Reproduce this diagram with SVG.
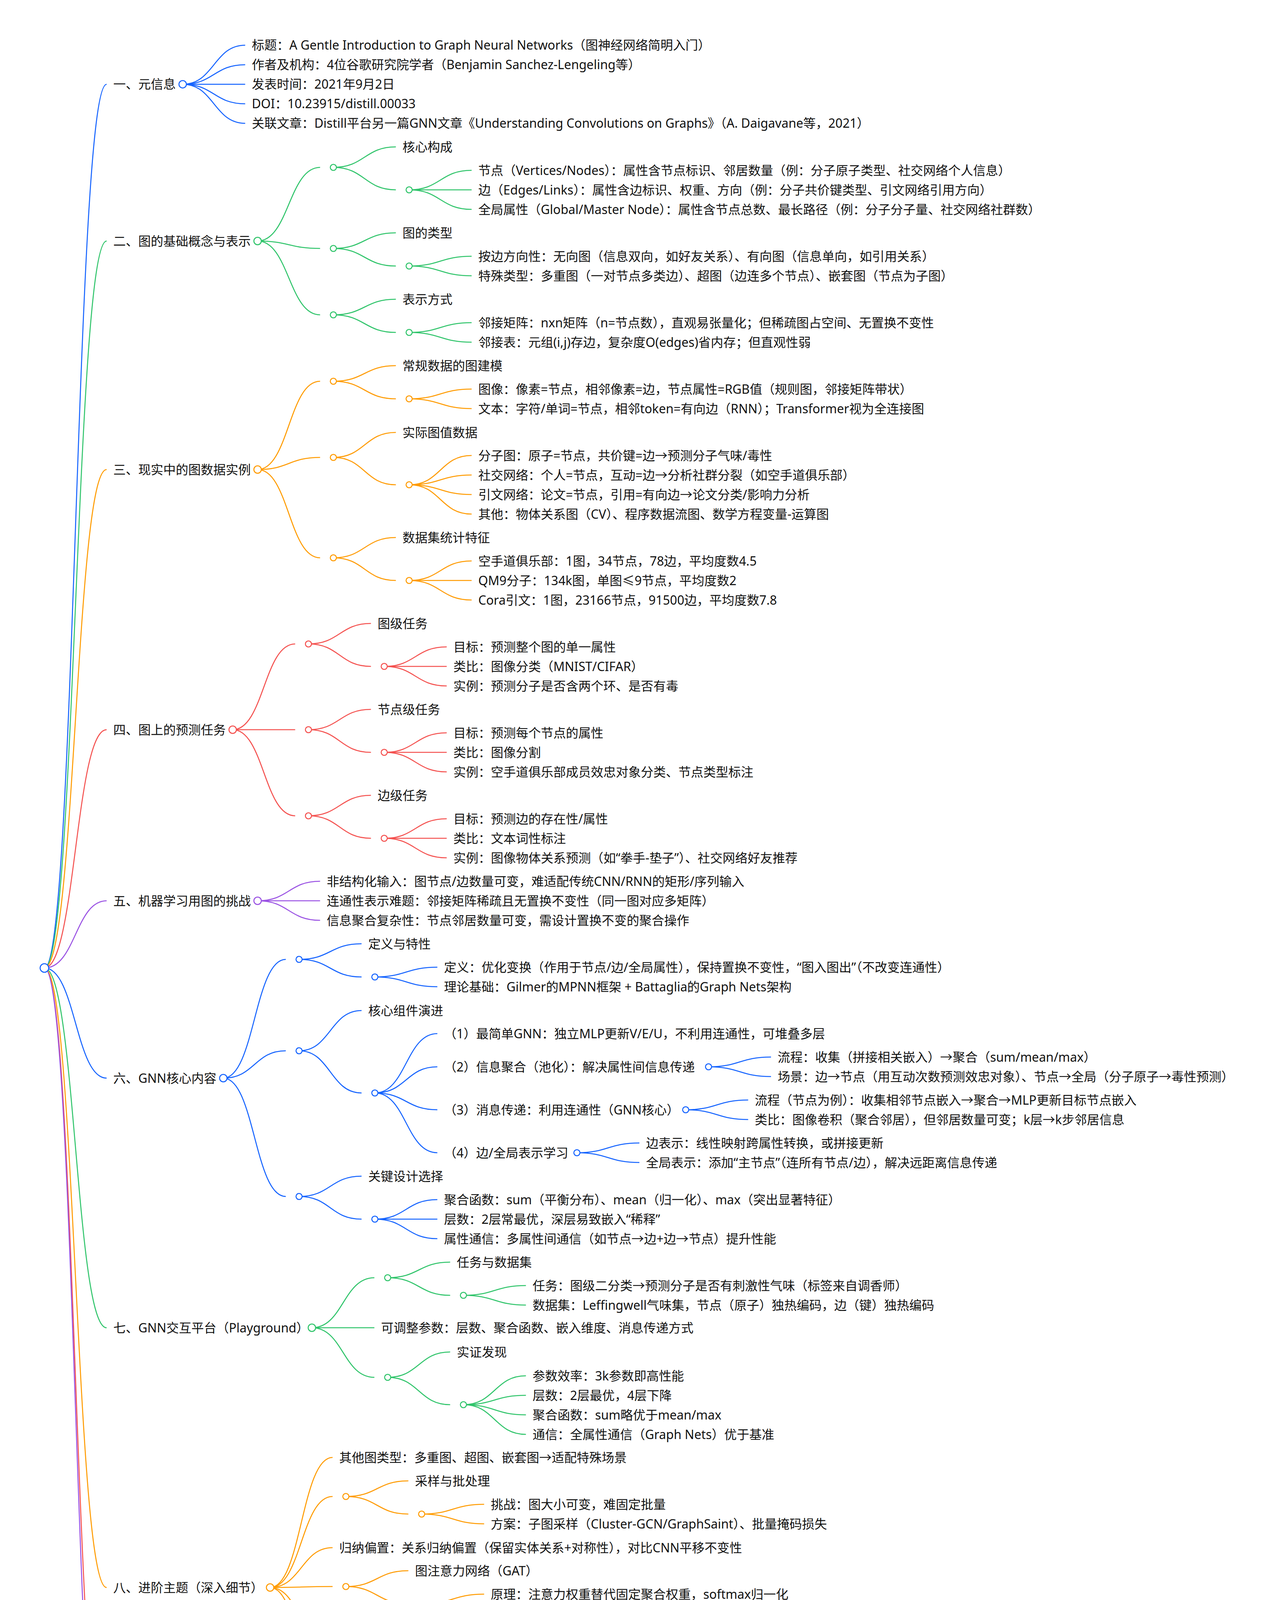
<svg xmlns="http://www.w3.org/2000/svg" width="3272" height="4907" viewBox="0 0 3272 4907">
<style>
.l{fill:none;stroke-width:2.6}
circle{fill:#fff;stroke-width:2.6}
text{font-family:"Noto Sans","Noto Sans CJK SC",sans-serif;font-size:32px;fill:#111}
.b{stroke:#1463ff}.g{stroke:#2fc46a}.o{stroke:#ff9b00}.r{stroke:#f4514f}.p{stroke:#9a52e3}
</style>
<rect width="3272" height="4907" fill="#fff"/>
<g id="connectors">
<g class="l b">
<path d="M113.7,2478C193.4,2478 193.4,215.7 273,215.7"/>
<path d="M113.7,2478C193.4,2478 193.4,2760 273,2760"/>
<path d="M467.7,215.7C547.7,215.7 547.7,115.7 627.7,115.7"/>
<path d="M467.7,215.7C547.7,215.7 547.7,165.7 627.7,165.7"/>
<path d="M467.7,215.7C547.7,215.7 547.7,215.7 627.7,215.7"/>
<path d="M467.7,215.7C547.7,215.7 547.7,265.7 627.7,265.7"/>
<path d="M467.7,215.7C547.7,215.7 547.7,315.7 627.7,315.7"/>
<path d="M571.7,2760C651.7,2760 651.7,2456 731.7,2456"/>
<path d="M571.7,2760C651.7,2760 651.7,2690 731.7,2690"/>
<path d="M571.7,2760C651.7,2760 651.7,3063 731.7,3063"/>
<path d="M765.7,2456C845.7,2456 845.7,2416 925.7,2416"/>
<path d="M765.7,2456C845.7,2456 845.7,2501 925.7,2501"/>
<path d="M959.7,2501C1039.7,2501 1039.7,2476 1119.7,2476"/>
<path d="M959.7,2501C1039.7,2501 1039.7,2526 1119.7,2526"/>
<path d="M765.7,2690C845.7,2690 845.7,2587 925.7,2587"/>
<path d="M765.7,2690C845.7,2690 845.7,2798 925.7,2798"/>
<path d="M959.7,2798C1039.7,2798 1039.7,2646 1119.7,2646"/>
<path d="M959.7,2798C1039.7,2798 1039.7,2731 1119.7,2731"/>
<path d="M959.7,2798C1039.7,2798 1039.7,2841 1119.7,2841"/>
<path d="M959.7,2798C1039.7,2798 1039.7,2951 1119.7,2951"/>
<path d="M1814,2731C1894,2731 1894,2706 1974,2706"/>
<path d="M1814,2731C1894,2731 1894,2756 1974,2756"/>
<path d="M1755.5,2841C1835.5,2841 1835.5,2816 1915.5,2816"/>
<path d="M1755.5,2841C1835.5,2841 1835.5,2866 1915.5,2866"/>
<path d="M1477,2951C1557,2951 1557,2926 1637,2926"/>
<path d="M1477,2951C1557,2951 1557,2976 1637,2976"/>
<path d="M765.7,3063C845.7,3063 845.7,3011 925.7,3011"/>
<path d="M765.7,3063C845.7,3063 845.7,3121 925.7,3121"/>
<path d="M959.7,3121C1039.7,3121 1039.7,3071 1119.7,3071"/>
<path d="M959.7,3121C1039.7,3121 1039.7,3121 1119.7,3121"/>
<path d="M959.7,3121C1039.7,3121 1039.7,3171 1119.7,3171"/>
</g>
<g class="l g">
<path d="M113.7,2478C193.4,2478 193.4,617 273,617"/>
<path d="M113.7,2478C193.4,2478 193.4,3399 273,3399"/>
<path d="M659.5,617C739.5,617 739.5,428.5 819.5,428.5"/>
<path d="M659.5,617C739.5,617 739.5,636 819.5,636"/>
<path d="M659.5,617C739.5,617 739.5,806 819.5,806"/>
<path d="M853.5,428.5C933.5,428.5 933.5,376 1013.5,376"/>
<path d="M853.5,428.5C933.5,428.5 933.5,486 1013.5,486"/>
<path d="M1047.5,486C1127.5,486 1127.5,436 1207.5,436"/>
<path d="M1047.5,486C1127.5,486 1127.5,486 1207.5,486"/>
<path d="M1047.5,486C1127.5,486 1127.5,536 1207.5,536"/>
<path d="M853.5,636C933.5,636 933.5,596 1013.5,596"/>
<path d="M853.5,636C933.5,636 933.5,681 1013.5,681"/>
<path d="M1047.5,681C1127.5,681 1127.5,656 1207.5,656"/>
<path d="M1047.5,681C1127.5,681 1127.5,706 1207.5,706"/>
<path d="M853.5,806C933.5,806 933.5,766 1013.5,766"/>
<path d="M853.5,806C933.5,806 933.5,851 1013.5,851"/>
<path d="M1047.5,851C1127.5,851 1127.5,826 1207.5,826"/>
<path d="M1047.5,851C1127.5,851 1127.5,876 1207.5,876"/>
<path d="M798.5,3399C878.5,3399 878.5,3271 958.5,3271"/>
<path d="M798.5,3399C878.5,3399 878.5,3399 958.5,3399"/>
<path d="M798.5,3399C878.5,3399 878.5,3526 958.5,3526"/>
<path d="M992.5,3271C1072.5,3271 1072.5,3231 1152.5,3231"/>
<path d="M992.5,3271C1072.5,3271 1072.5,3316 1152.5,3316"/>
<path d="M1186.5,3316C1266.5,3316 1266.5,3291 1346.5,3291"/>
<path d="M1186.5,3316C1266.5,3316 1266.5,3341 1346.5,3341"/>
<path d="M992.5,3526C1072.5,3526 1072.5,3461 1152.5,3461"/>
<path d="M992.5,3526C1072.5,3526 1072.5,3596 1152.5,3596"/>
<path d="M1186.5,3596C1266.5,3596 1266.5,3522 1346.5,3522"/>
<path d="M1186.5,3596C1266.5,3596 1266.5,3572 1346.5,3572"/>
<path d="M1186.5,3596C1266.5,3596 1266.5,3622 1346.5,3622"/>
<path d="M1186.5,3596C1266.5,3596 1266.5,3672 1346.5,3672"/>
</g>
<g class="l o">
<path d="M113.7,2478C193.4,2478 193.4,1202 273,1202"/>
<path d="M113.7,2478C193.4,2478 193.4,4064 273,4064"/>
<path d="M659.5,1202C739.5,1202 739.5,976 819.5,976"/>
<path d="M659.5,1202C739.5,1202 739.5,1171 819.5,1171"/>
<path d="M659.5,1202C739.5,1202 739.5,1428 819.5,1428"/>
<path d="M853.5,976C933.5,976 933.5,936 1013.5,936"/>
<path d="M853.5,976C933.5,976 933.5,1021 1013.5,1021"/>
<path d="M1047.5,1021C1127.5,1021 1127.5,996 1207.5,996"/>
<path d="M1047.5,1021C1127.5,1021 1127.5,1046 1207.5,1046"/>
<path d="M853.5,1171C933.5,1171 933.5,1107 1013.5,1107"/>
<path d="M853.5,1171C933.5,1171 933.5,1241 1013.5,1241"/>
<path d="M1047.5,1241C1127.5,1241 1127.5,1166 1207.5,1166"/>
<path d="M1047.5,1241C1127.5,1241 1127.5,1216 1207.5,1216"/>
<path d="M1047.5,1241C1127.5,1241 1127.5,1266 1207.5,1266"/>
<path d="M1047.5,1241C1127.5,1241 1127.5,1316 1207.5,1316"/>
<path d="M853.5,1428C933.5,1428 933.5,1376 1013.5,1376"/>
<path d="M853.5,1428C933.5,1428 933.5,1486 1013.5,1486"/>
<path d="M1047.5,1486C1127.5,1486 1127.5,1436 1207.5,1436"/>
<path d="M1047.5,1486C1127.5,1486 1127.5,1486 1207.5,1486"/>
<path d="M1047.5,1486C1127.5,1486 1127.5,1536 1207.5,1536"/>
<path d="M691.5,4064C771.5,4064 771.5,3731 851.5,3731"/>
<path d="M691.5,4064C771.5,4064 771.5,3831 851.5,3831"/>
<path d="M691.5,4064C771.5,4064 771.5,3962 851.5,3962"/>
<path d="M691.5,4064C771.5,4064 771.5,4061.5 851.5,4061.5"/>
<path d="M691.5,4064C771.5,4064 771.5,4231.5 851.5,4231.5"/>
<path d="M691.5,4064C771.5,4064 771.5,4401.5 851.5,4401.5"/>
<path d="M885.5,3831C965.5,3831 965.5,3791 1045.5,3791"/>
<path d="M885.5,3831C965.5,3831 965.5,3876 1045.5,3876"/>
<path d="M1079.5,3876C1159.5,3876 1159.5,3851 1239.5,3851"/>
<path d="M1079.5,3876C1159.5,3876 1159.5,3901 1239.5,3901"/>
<path d="M885.5,4061.5C965.5,4061.5 965.5,4021 1045.5,4021"/>
<path d="M885.5,4061.5C965.5,4061.5 965.5,4106 1045.5,4106"/>
<path d="M1079.5,4106C1159.5,4106 1159.5,4081 1239.5,4081"/>
<path d="M1079.5,4106C1159.5,4106 1159.5,4131 1239.5,4131"/>
<path d="M885.5,4231.5C965.5,4231.5 965.5,4191 1045.5,4191"/>
<path d="M885.5,4231.5C965.5,4231.5 965.5,4276 1045.5,4276"/>
<path d="M1079.5,4276C1159.5,4276 1159.5,4251 1239.5,4251"/>
<path d="M1079.5,4276C1159.5,4276 1159.5,4301 1239.5,4301"/>
<path d="M885.5,4401.5C965.5,4401.5 965.5,4361 1045.5,4361"/>
<path d="M885.5,4401.5C965.5,4401.5 965.5,4446 1045.5,4446"/>
<path d="M1079.5,4446C1159.5,4446 1159.5,4421 1239.5,4421"/>
<path d="M1079.5,4446C1159.5,4446 1159.5,4471 1239.5,4471"/>
</g>
<g class="l r">
<path d="M113.7,2478C193.4,2478 193.4,1868 273,1868"/>
<path d="M113.7,2478C193.4,2478 193.4,4580.5 273,4580.5"/>
<path d="M595.7,1868C675.7,1868 675.7,1648.5 755.7,1648.5"/>
<path d="M595.7,1868C675.7,1868 675.7,1868 755.7,1868"/>
<path d="M595.7,1868C675.7,1868 675.7,2088.5 755.7,2088.5"/>
<path d="M789.7,1648.5C869.7,1648.5 869.7,1596 949.7,1596"/>
<path d="M789.7,1648.5C869.7,1648.5 869.7,1706 949.7,1706"/>
<path d="M983.7,1706C1063.7,1706 1063.7,1656 1143.7,1656"/>
<path d="M983.7,1706C1063.7,1706 1063.7,1706 1143.7,1706"/>
<path d="M983.7,1706C1063.7,1706 1063.7,1756 1143.7,1756"/>
<path d="M789.7,1868C869.7,1868 869.7,1816 949.7,1816"/>
<path d="M789.7,1868C869.7,1868 869.7,1926 949.7,1926"/>
<path d="M983.7,1926C1063.7,1926 1063.7,1876 1143.7,1876"/>
<path d="M983.7,1926C1063.7,1926 1063.7,1926 1143.7,1926"/>
<path d="M983.7,1926C1063.7,1926 1063.7,1976 1143.7,1976"/>
<path d="M789.7,2088.5C869.7,2088.5 869.7,2036 949.7,2036"/>
<path d="M789.7,2088.5C869.7,2088.5 869.7,2146 949.7,2146"/>
<path d="M983.7,2146C1063.7,2146 1063.7,2096 1143.7,2096"/>
<path d="M983.7,2146C1063.7,2146 1063.7,2146 1143.7,2146"/>
<path d="M983.7,2146C1063.7,2146 1063.7,2196 1143.7,2196"/>
<path d="M531.5,4580.5C611.5,4580.5 611.5,4531 691.5,4531"/>
<path d="M531.5,4580.5C611.5,4580.5 611.5,4580.5 691.5,4580.5"/>
<path d="M531.5,4580.5C611.5,4580.5 611.5,4630 691.5,4630"/>
</g>
<g class="l p">
<path d="M113.7,2478C193.4,2478 193.4,2306 273,2306"/>
<path d="M113.7,2478C193.4,2478 193.4,4740.5 273,4740.5"/>
<path d="M659.5,2306C739.5,2306 739.5,2256 819.5,2256"/>
<path d="M659.5,2306C739.5,2306 739.5,2306 819.5,2306"/>
<path d="M659.5,2306C739.5,2306 739.5,2356 819.5,2356"/>
<path d="M500.5,4740.5C580.5,4740.5 580.5,4691 660.5,4691"/>
<path d="M500.5,4740.5C580.5,4740.5 580.5,4740.5 660.5,4740.5"/>
<path d="M500.5,4740.5C580.5,4740.5 580.5,4790 660.5,4790"/>
</g>
</g>

<g id="root"><circle class="b" cx="113.7" cy="2478" r="11"/></g>

<g id="s1"><text x="290" y="227.2">一、元信息</text><circle class="b" cx="467.7" cy="215.7" r="9.5"/></g>
<g id="s1-1"><text x="644.7" y="127.2">标题：A Gentle Introduction to Graph Neural Networks（图神经网络简明入门）</text></g>
<g id="s1-2"><text x="644.7" y="177.2">作者及机构：4位谷歌研究院学者（Benjamin Sanchez-Lengeling等）</text></g>
<g id="s1-3"><text x="644.7" y="227.2">发表时间：2021年9月2日</text></g>
<g id="s1-4"><text x="644.7" y="277.2">DOI：10.23915/distill.00033</text></g>
<g id="s1-5"><text x="644.7" y="327.2">关联文章：Distill平台另一篇GNN文章《Understanding Convolutions on Graphs》（A. Daigavane等，2021）</text></g>

<g id="s2"><text x="290" y="628.5">二、图的基础概念与表示</text><circle class="g" cx="659.5" cy="617" r="9.5"/></g>
<g id="s2-1"><circle class="g" cx="853.5" cy="428.5" r="7.8"/></g>
<g id="s2-1-t"><text x="1030.5" y="387.5">核心构成</text></g>
<g id="s2-1-c"><circle class="g" cx="1047.5" cy="486" r="7.8"/></g>
<g id="s2-1-1"><text x="1224.5" y="447.5">节点（Vertices/Nodes）：属性含节点标识、邻居数量（例：分子原子类型、社交网络个人信息）</text></g>
<g id="s2-1-2"><text x="1224.5" y="497.5">边（Edges/Links）：属性含边标识、权重、方向（例：分子共价键类型、引文网络引用方向）</text></g>
<g id="s2-1-3"><text x="1224.5" y="547.5">全局属性（Global/Master Node）：属性含节点总数、最长路径（例：分子分子量、社交网络社群数）</text></g>
<g id="s2-2"><circle class="g" cx="853.5" cy="636" r="7.8"/></g>
<g id="s2-2-t"><text x="1030.5" y="607.5">图的类型</text></g>
<g id="s2-2-c"><circle class="g" cx="1047.5" cy="681" r="7.8"/></g>
<g id="s2-2-1"><text x="1224.5" y="667.5">按边方向性：无向图（信息双向，如好友关系）、有向图（信息单向，如引用关系）</text></g>
<g id="s2-2-2"><text x="1224.5" y="717.5">特殊类型：多重图（一对节点多类边）、超图（边连多个节点）、嵌套图（节点为子图）</text></g>
<g id="s2-3"><circle class="g" cx="853.5" cy="806" r="7.8"/></g>
<g id="s2-3-t"><text x="1030.5" y="777.5">表示方式</text></g>
<g id="s2-3-c"><circle class="g" cx="1047.5" cy="851" r="7.8"/></g>
<g id="s2-3-1"><text x="1224.5" y="837.5">邻接矩阵：nxn矩阵（n=节点数），直观易张量化；但稀疏图占空间、无置换不变性</text></g>
<g id="s2-3-2"><text x="1224.5" y="887.5">邻接表：元组(i,j)存边，复杂度O(edges)省内存；但直观性弱</text></g>

<g id="s3"><text x="290" y="1213.5">三、现实中的图数据实例</text><circle class="o" cx="659.5" cy="1202" r="9.5"/></g>
<g id="s3-1"><circle class="o" cx="853.5" cy="976" r="7.8"/></g>
<g id="s3-1-t"><text x="1030.5" y="947.5">常规数据的图建模</text></g>
<g id="s3-1-c"><circle class="o" cx="1047.5" cy="1021" r="7.8"/></g>
<g id="s3-1-1"><text x="1224.5" y="1007.5">图像：像素=节点，相邻像素=边，节点属性=RGB值（规则图，邻接矩阵带状）</text></g>
<g id="s3-1-2"><text x="1224.5" y="1057.5">文本：字符/单词=节点，相邻token=有向边（RNN）；Transformer视为全连接图</text></g>
<g id="s3-2"><circle class="o" cx="853.5" cy="1171" r="7.8"/></g>
<g id="s3-2-t"><text x="1030.5" y="1118.5">实际图值数据</text></g>
<g id="s3-2-c"><circle class="o" cx="1047.5" cy="1241" r="7.8"/></g>
<g id="s3-2-1"><text x="1224.5" y="1177.5">分子图：原子=节点，共价键=边→预测分子气味/毒性</text></g>
<g id="s3-2-2"><text x="1224.5" y="1227.5">社交网络：个人=节点，互动=边→分析社群分裂（如空手道俱乐部）</text></g>
<g id="s3-2-3"><text x="1224.5" y="1277.5">引文网络：论文=节点，引用=有向边→论文分类/影响力分析</text></g>
<g id="s3-2-4"><text x="1224.5" y="1327.5">其他：物体关系图（CV）、程序数据流图、数学方程变量-运算图</text></g>
<g id="s3-3"><circle class="o" cx="853.5" cy="1428" r="7.8"/></g>
<g id="s3-3-t"><text x="1030.5" y="1387.5">数据集统计特征</text></g>
<g id="s3-3-c"><circle class="o" cx="1047.5" cy="1486" r="7.8"/></g>
<g id="s3-3-1"><text x="1224.5" y="1447.5">空手道俱乐部：1图，34节点，78边，平均度数4.5</text></g>
<g id="s3-3-2"><text x="1224.5" y="1497.5">QM9分子：134k图，单图≤9节点，平均度数2</text></g>
<g id="s3-3-3"><text x="1224.5" y="1547.5">Cora引文：1图，23166节点，91500边，平均度数7.8</text></g>

<g id="s4"><text x="290" y="1879.5">四、图上的预测任务</text><circle class="r" cx="595.7" cy="1868" r="9.5"/></g>
<g id="s4-1"><circle class="r" cx="789.7" cy="1648.5" r="7.8"/></g>
<g id="s4-1-t"><text x="966.7" y="1607.5">图级任务</text></g>
<g id="s4-1-c"><circle class="r" cx="983.7" cy="1706" r="7.8"/></g>
<g id="s4-1-1"><text x="1160.7" y="1667.5">目标：预测整个图的单一属性</text></g>
<g id="s4-1-2"><text x="1160.7" y="1717.5">类比：图像分类（MNIST/CIFAR）</text></g>
<g id="s4-1-3"><text x="1160.7" y="1767.5">实例：预测分子是否含两个环、是否有毒</text></g>
<g id="s4-2"><circle class="r" cx="789.7" cy="1868" r="7.8"/></g>
<g id="s4-2-t"><text x="966.7" y="1827.5">节点级任务</text></g>
<g id="s4-2-c"><circle class="r" cx="983.7" cy="1926" r="7.8"/></g>
<g id="s4-2-1"><text x="1160.7" y="1887.5">目标：预测每个节点的属性</text></g>
<g id="s4-2-2"><text x="1160.7" y="1937.5">类比：图像分割</text></g>
<g id="s4-2-3"><text x="1160.7" y="1987.5">实例：空手道俱乐部成员效忠对象分类、节点类型标注</text></g>
<g id="s4-3"><circle class="r" cx="789.7" cy="2088.5" r="7.8"/></g>
<g id="s4-3-t"><text x="966.7" y="2047.5">边级任务</text></g>
<g id="s4-3-c"><circle class="r" cx="983.7" cy="2146" r="7.8"/></g>
<g id="s4-3-1"><text x="1160.7" y="2107.5">目标：预测边的存在性/属性</text></g>
<g id="s4-3-2"><text x="1160.7" y="2157.5">类比：文本词性标注</text></g>
<g id="s4-3-3"><text x="1160.7" y="2207.5">实例：图像物体关系预测（如“拳手-垫子”）、社交网络好友推荐</text></g>

<g id="s5"><text x="290" y="2317.5">五、机器学习用图的挑战</text><circle class="p" cx="659.5" cy="2306" r="9.5"/></g>
<g id="s5-1"><text x="836.5" y="2267.5">非结构化输入：图节点/边数量可变，难适配传统CNN/RNN的矩形/序列输入</text></g>
<g id="s5-2"><text x="836.5" y="2317.5">连通性表示难题：邻接矩阵稀疏且无置换不变性（同一图对应多矩阵）</text></g>
<g id="s5-3"><text x="836.5" y="2367.5">信息聚合复杂性：节点邻居数量可变，需设计置换不变的聚合操作</text></g>

<g id="s6"><text x="290" y="2771.5">六、GNN核心内容</text><circle class="b" cx="571.7" cy="2760" r="9.5"/></g>
<g id="s6-1"><circle class="b" cx="765.7" cy="2456" r="7.8"/></g>
<g id="s6-1-t"><text x="942.7" y="2427.5">定义与特性</text></g>
<g id="s6-1-c"><circle class="b" cx="959.7" cy="2501" r="7.8"/></g>
<g id="s6-1-1"><text x="1136.7" y="2487.5">定义：优化变换（作用于节点/边/全局属性），保持置换不变性，“图入图出”（不改变连通性）</text></g>
<g id="s6-1-2"><text x="1136.7" y="2537.5">理论基础：Gilmer的MPNN框架 + Battaglia的Graph Nets架构</text></g>
<g id="s6-2"><circle class="b" cx="765.7" cy="2690" r="7.8"/></g>
<g id="s6-2-t"><text x="942.7" y="2598.5">核心组件演进</text></g>
<g id="s6-2-c"><circle class="b" cx="959.7" cy="2798" r="7.8"/></g>
<g id="s6-2-1"><text x="1136.7" y="2657.5">（1）最简单GNN：独立MLP更新V/E/U，不利用连通性，可堆叠多层</text></g>
<g id="s6-2-2"><text x="1136.7" y="2742.5">（2）信息聚合（池化）：解决属性间信息传递</text><circle class="b" cx="1814" cy="2731" r="7.8"/></g>
<g id="s6-2-2-1"><text x="1991" y="2717.5">流程：收集（拼接相关嵌入）→聚合（sum/mean/max）</text></g>
<g id="s6-2-2-2"><text x="1991" y="2767.5">场景：边→节点（用互动次数预测效忠对象）、节点→全局（分子原子→毒性预测）</text></g>
<g id="s6-2-3"><text x="1136.7" y="2852.5">（3）消息传递：利用连通性（GNN核心）</text><circle class="b" cx="1755.5" cy="2841" r="7.8"/></g>
<g id="s6-2-3-1"><text x="1932.5" y="2827.5">流程（节点为例）：收集相邻节点嵌入→聚合→MLP更新目标节点嵌入</text></g>
<g id="s6-2-3-2"><text x="1932.5" y="2877.5">类比：图像卷积（聚合邻居），但邻居数量可变；k层→k步邻居信息</text></g>
<g id="s6-2-4"><text x="1136.7" y="2962.5">（4）边/全局表示学习</text><circle class="b" cx="1477" cy="2951" r="7.8"/></g>
<g id="s6-2-4-1"><text x="1654" y="2937.5">边表示：线性映射跨属性转换，或拼接更新</text></g>
<g id="s6-2-4-2"><text x="1654" y="2987.5">全局表示：添加“主节点”（连所有节点/边），解决远距离信息传递</text></g>
<g id="s6-3"><circle class="b" cx="765.7" cy="3063" r="7.8"/></g>
<g id="s6-3-t"><text x="942.7" y="3022.5">关键设计选择</text></g>
<g id="s6-3-c"><circle class="b" cx="959.7" cy="3121" r="7.8"/></g>
<g id="s6-3-1"><text x="1136.7" y="3082.5">聚合函数：sum（平衡分布）、mean（归一化）、max（突出显著特征）</text></g>
<g id="s6-3-2"><text x="1136.7" y="3132.5">层数：2层常最优，深层易致嵌入“稀释”</text></g>
<g id="s6-3-3"><text x="1136.7" y="3182.5">属性通信：多属性间通信（如节点→边+边→节点）提升性能</text></g>

<g id="s7"><text x="290" y="3410.5">七、GNN交互平台（Playground）</text><circle class="g" cx="798.5" cy="3399" r="9.5"/></g>
<g id="s7-1"><circle class="g" cx="992.5" cy="3271" r="7.8"/></g>
<g id="s7-1-t"><text x="1169.5" y="3242.5">任务与数据集</text></g>
<g id="s7-1-c"><circle class="g" cx="1186.5" cy="3316" r="7.8"/></g>
<g id="s7-1-1"><text x="1363.5" y="3302.5">任务：图级二分类→预测分子是否有刺激性气味（标签来自调香师）</text></g>
<g id="s7-1-2"><text x="1363.5" y="3352.5">数据集：Leffingwell气味集，节点（原子）独热编码，边（键）独热编码</text></g>
<g id="s7-2"><text x="975.5" y="3410.5">可调整参数：层数、聚合函数、嵌入维度、消息传递方式</text></g>
<g id="s7-3"><circle class="g" cx="992.5" cy="3526" r="7.8"/></g>
<g id="s7-3-t"><text x="1169.5" y="3472.5">实证发现</text></g>
<g id="s7-3-c"><circle class="g" cx="1186.5" cy="3596" r="7.8"/></g>
<g id="s7-3-1"><text x="1363.5" y="3533.5">参数效率：3k参数即高性能</text></g>
<g id="s7-3-2"><text x="1363.5" y="3583.5">层数：2层最优，4层下降</text></g>
<g id="s7-3-3"><text x="1363.5" y="3633.5">聚合函数：sum略优于mean/max</text></g>
<g id="s7-3-4"><text x="1363.5" y="3683.5">通信：全属性通信（Graph Nets）优于基准</text></g>

<g id="s8"><text x="290" y="4075.5">八、进阶主题（深入细节）</text><circle class="o" cx="691.5" cy="4064" r="9.5"/></g>
<g id="s8-1"><text x="868.5" y="3742.5">其他图类型：多重图、超图、嵌套图→适配特殊场景</text></g>
<g id="s8-2"><circle class="o" cx="885.5" cy="3831" r="7.8"/></g>
<g id="s8-2-t"><text x="1062.5" y="3802.5">采样与批处理</text></g>
<g id="s8-2-c"><circle class="o" cx="1079.5" cy="3876" r="7.8"/></g>
<g id="s8-2-1"><text x="1256.5" y="3862.5">挑战：图大小可变，难固定批量</text></g>
<g id="s8-2-2"><text x="1256.5" y="3912.5">方案：子图采样（Cluster-GCN/GraphSaint）、批量掩码损失</text></g>
<g id="s8-3"><text x="868.5" y="3973.5">归纳偏置：关系归纳偏置（保留实体关系+对称性），对比CNN平移不变性</text></g>
<g id="s8-4"><circle class="o" cx="885.5" cy="4061.5" r="7.8"/></g>
<g id="s8-4-t"><text x="1062.5" y="4032.5">图注意力网络（GAT）</text></g>
<g id="s8-4-c"><circle class="o" cx="1079.5" cy="4106" r="7.8"/></g>
<g id="s8-4-1"><text x="1256.5" y="4092.5">原理：注意力权重替代固定聚合权重，softmax归一化</text></g>
<g id="s8-4-2"><text x="1256.5" y="4142.5">优势：可解释性强（权重表边相关性）；Transformer=全连接GAT</text></g>
<g id="s8-5"><circle class="o" cx="885.5" cy="4231.5" r="7.8"/></g>
<g id="s8-5-t"><text x="1062.5" y="4202.5">GNN解释与归因</text></g>
<g id="s8-5-c"><circle class="o" cx="1079.5" cy="4276" r="7.8"/></g>
<g id="s8-5-1"><text x="1256.5" y="4262.5">目标：提升可信度、辅助调试</text></g>
<g id="s8-5-2"><text x="1256.5" y="4312.5">方法：GNNExplainer（提关键子图）、归因技术（节点/边重要性排名）</text></g>
<g id="s8-6"><circle class="o" cx="885.5" cy="4401.5" r="7.8"/></g>
<g id="s8-6-t"><text x="1062.5" y="4372.5">图生成模型</text></g>
<g id="s8-6-c"><circle class="o" cx="1079.5" cy="4446" r="7.8"/></g>
<g id="s8-6-1"><text x="1256.5" y="4432.5">应用：药物设计、社交网络生成</text></g>
<g id="s8-6-2"><text x="1256.5" y="4482.5">方法：图VAE（建模邻接矩阵）、GraphRNN（自回归）、序列建模（SELFIES字符串）</text></g>

<g id="s9"><text x="290" y="4592">九、总结与展望</text><circle class="r" cx="531.5" cy="4580.5" r="9.5"/></g>
<g id="s9-1"><text x="708.5" y="4542.5">图的价值：建模实体关系，弥补图像/文本局限</text></g>
<g id="s9-2"><text x="708.5" y="4592">GNN核心：消息传递用连通性，池化跨属性预测，保置换不变性</text></g>
<g id="s9-3"><text x="708.5" y="4641.5">未来方向：复杂图算法、图构建优化、大规模图高效训练</text></g>

<g id="s10"><text x="290" y="4752">十、补充信息</text><circle class="p" cx="500.5" cy="4740.5" r="9.5"/></g>
<g id="s10-1"><text x="677.5" y="4702.5">致谢：Andy Coenen等反馈，架构图基于Graph Nets</text></g>
<g id="s10-2"><text x="677.5" y="4752">许可：CC-BY 4.0协议（GitHub开源），引用需标DOI</text></g>
<g id="s10-3"><text x="677.5" y="4801.5">更新纠错：GitHub提交issue建议</text></g>
</svg>
